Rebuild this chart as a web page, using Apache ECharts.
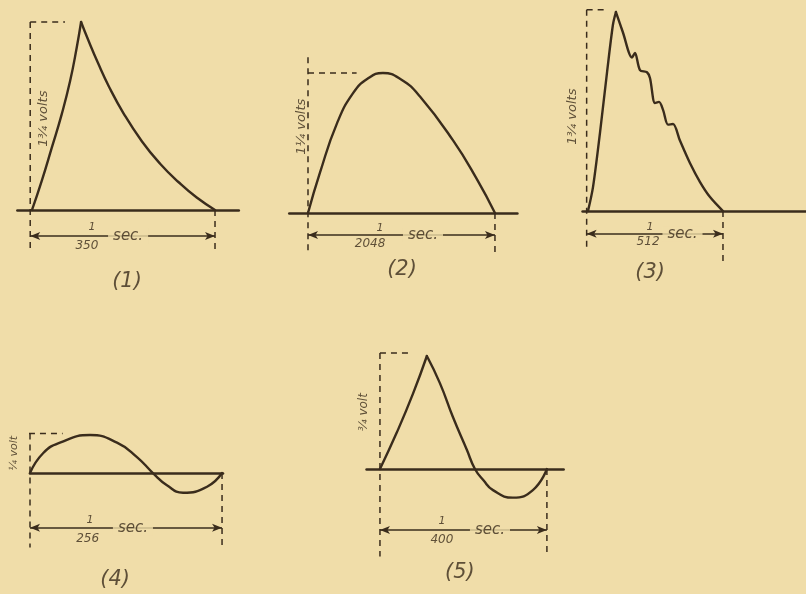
<!DOCTYPE html>
<html>
<head>
<meta charset="utf-8">
<script src="https://cdn.jsdelivr.net/npm/echarts@6/dist/echarts.min.js"></script>
<style>
html, body { margin: 0; padding: 0; background: #f0dda9; }
#main { width: 806px; height: 594px; }
</style>
</head>
<body>
<div id="main"></div>
<script>
// wave shapes: [time as fraction of one period, volts]
var wave1Rise = [[0,0],[0.053,0.27],[0.108,0.58],[0.162,0.89],[0.208,1.2],[0.244,1.51],[0.268,1.75]];
var wave1Fall = [[0.268,1.75],[0.31,1.57],[0.36,1.37],[0.42,1.15],[0.5,0.9],[0.6,0.64],[0.7,0.43],[0.8,0.26],[0.9,0.115],[1,0]];
var wave2 = [[0,0],[0.064,0.36],[0.155,0.8],[0.241,1.07],[0.32,1.2],[0.401,1.25],[0.5,1.19],[0.599,1.04],[0.775,0.65],[0.904,0.3],[1,0]];
var wave3Rise = [[0,0],[0.037,0.21],[0.089,0.69],[0.141,1.22],[0.185,1.64],[0.207,1.75]];
var wave3Fall = [[0.207,1.75],[0.259,1.57],[0.326,1.35],[0.348,1.39],[0.385,1.24],[0.437,1.22],[0.459,1.17],[0.496,0.95],[0.526,0.96],[0.556,0.89],[0.593,0.76],[0.63,0.765],[0.681,0.62],[0.756,0.42],[0.83,0.255],[0.904,0.123],[1,0]];
var wave4 = [[0,0],[0.068,0.13],[0.156,0.2],[0.3125,0.25],[0.453,0.2],[0.557,0.105],[0.64,0],[0.713,-0.08],[0.797,-0.13],[0.922,-0.09],[1,0]];
var wave5Rise = [[0,0],[0.1,0.24],[0.198,0.5],[0.281,0.75]];
var wave5Fall = [[0.281,0.75],[0.359,0.57],[0.437,0.345],[0.521,0.126],[0.569,0],[0.62,-0.075],[0.677,-0.14],[0.796,-0.19],[0.916,-0.14],[1,0]];

var amplitudes = [1.75, 1.25, 1.75, 0.25, 0.75];
var ampLabels = ['1¾ volts', '1¼ volts', '1¾ volts', '¼ volt', '¾ volt'];
var periods = ['350', '2048', '512', '256', '400'];
var captions = ['(1)', '(2)', '(3)', '(4)', '(5)'];

var ink = '#3a2c1c';
var paper = '#f0dda9';
var font = 'DejaVu Sans';

// layout of each little figure (pixels / axis ranges)
var layout = [
  { grid: {left: 17.4, top: 22, width: 221.4, height: 229.8}, x: [-0.08, 1.13], y: [-0.39, 1.75],
    curves: [wave1Rise, wave1Fall], smooth: 0.5,
    lx: -0.01, top: 1.75, bottomL: -0.39, bottomR: -0.39, topTo: 0.18, dim: -0.242,
    volts: [0.066, 0.85, 13], num: [0.328, -0.158], den: [0.30, -0.335], sec: [0.525, -0.242], cap: [0.519, -0.67] },
  { grid: {left: 289.3, top: 57.3, width: 228.1, height: 194.9}, x: [-0.1, 1.12], y: [-0.35, 1.39],
    curves: [wave2], smooth: 0.5,
    lx: 0, top: 1.39, bottomL: -0.35, bottomR: -0.35, topTo: 0.26, dim: -0.196,
    volts: [-0.032, 0.77, 13], num: [0.385, -0.134], den: [0.332, -0.277], sec: [0.615, -0.196], cap: [0.503, -0.509] },
  { grid: {left: 582.6, top: 9.75, width: 223.4, height: 253.6}, x: [-0.04, 1.615], y: [-0.46, 1.77],
    curves: [wave3Rise, wave3Fall], smooth: 0.3,
    lx: -0.01, top: 1.77, bottomL: -0.33, bottomR: -0.46, topTo: 0.13, dim: -0.2,
    volts: [-0.111, 0.83, 13], num: [0.46, -0.14], den: [0.445, -0.27], sec: [0.70, -0.2], cap: [0.46, -0.545] },
  { grid: {left: 30, top: 433.5, width: 193, height: 114}, x: [0, 1.005], y: [-0.49, 0.26],
    curves: [wave4], smooth: 0.5,
    lx: 0, top: 0.26, bottomL: -0.49, bottomR: -0.49, topFrom: -0.12, topTo: 0.17, baseExt: -0.12, dim: -0.36,
    volts: [-0.085, 0.13, 11], num: [0.3125, -0.31], den: [0.30, -0.43], sec: [0.536, -0.36], cap: [0.443, -0.70] },
  { grid: {left: 366.6, top: 353, width: 197, height: 203.4}, x: [-0.08, 1.1], y: [-0.58, 0.77],
    curves: [wave5Rise, wave5Fall], smooth: 0.5,
    lx: 0, top: 0.77, bottomL: -0.58, bottomR: -0.58, topTo: 0.17, dim: -0.405,
    volts: [-0.096, 0.378, 12], num: [0.371, -0.345], den: [0.371, -0.471], sec: [0.659, -0.405], cap: [0.479, -0.69] }
];

var grids = [], xAxes = [], yAxes = [], series = [];

function dashed(i, pts) {
  return {
    type: 'line', xAxisIndex: i, yAxisIndex: i, data: pts, symbol: 'none', clip: false, silent: true, z: 2,
    lineStyle: { color: ink, width: 1.5, type: [6, 5] }
  };
}

function txt(p, str, size, extra) {
  var label = { show: true, position: 'inside', formatter: str, color: ink, fontFamily: font,
    fontStyle: 'italic', fontSize: size };
  for (var k in extra) label[k] = extra[k];
  return { value: [p[0], p[1]], label: label };
}

layout.forEach(function (L, i) {
  grids.push(L.grid);
  xAxes.push({
    type: 'value', gridIndex: i, min: L.x[0], max: L.x[1],
    axisLine: { show: true, onZero: true, lineStyle: { color: ink, width: 2.6 } },
    axisTick: { show: false }, axisLabel: { show: false }, splitLine: { show: false }
  });
  yAxes.push({ type: 'value', gridIndex: i, min: L.y[0], max: L.y[1], show: false });

  L.curves.forEach(function (c) {
    series.push({
      type: 'line', xAxisIndex: i, yAxisIndex: i, data: c, smooth: L.smooth,
      symbol: 'none', clip: false, silent: true, z: 3,
      lineStyle: { color: ink, width: 2.4, cap: 'round', join: 'round' }
    });
  });

  var amp = amplitudes[i];
  // dashed guides: left side, right end of period, peak level
  var left = dashed(i, [[L.lx, L.top], [L.lx, L.bottomL]]);
  left.markLine = {
    silent: true, symbol: ['arrow', 'arrow'], symbolSize: [6, 10], label: { show: false },
    lineStyle: { color: ink, width: 1.6, type: 'solid' },
    data: [[{ coord: [L.lx, L.dim] }, { coord: [1, L.dim] }]]
  };
  series.push(left);
  series.push(dashed(i, [[1, 0], [1, L.bottomR]]));
  var lvl = i === 1 ? amp : L.top;
  series.push(dashed(i, [[L.topFrom !== undefined ? L.topFrom : L.lx, lvl], [L.topTo, lvl]]));
  if (L.baseExt !== undefined) series.push(dashed(i, [[L.baseExt, 0], [0, 0]]));

  series.push({
    type: 'scatter', xAxisIndex: i, yAxisIndex: i, symbolSize: 1, clip: false, silent: true, z: 5,
    itemStyle: { color: 'transparent' },
    data: [
      txt(L.volts, ampLabels[i], L.volts[2], { rotate: 90 }),
      txt(L.num, '1', 11),
      txt(L.den, periods[i], 12),
      txt(L.sec, 'sec.', 15, { backgroundColor: paper, padding: [0, 5] }),
      txt(L.cap, captions[i], 21)
    ]
  });
});

var chart = echarts.init(document.getElementById('main'));
chart.setOption({
  backgroundColor: paper,
  animation: false,
  grid: grids,
  xAxis: xAxes,
  yAxis: yAxes,
  series: series
});
</script>
</body>
</html>
